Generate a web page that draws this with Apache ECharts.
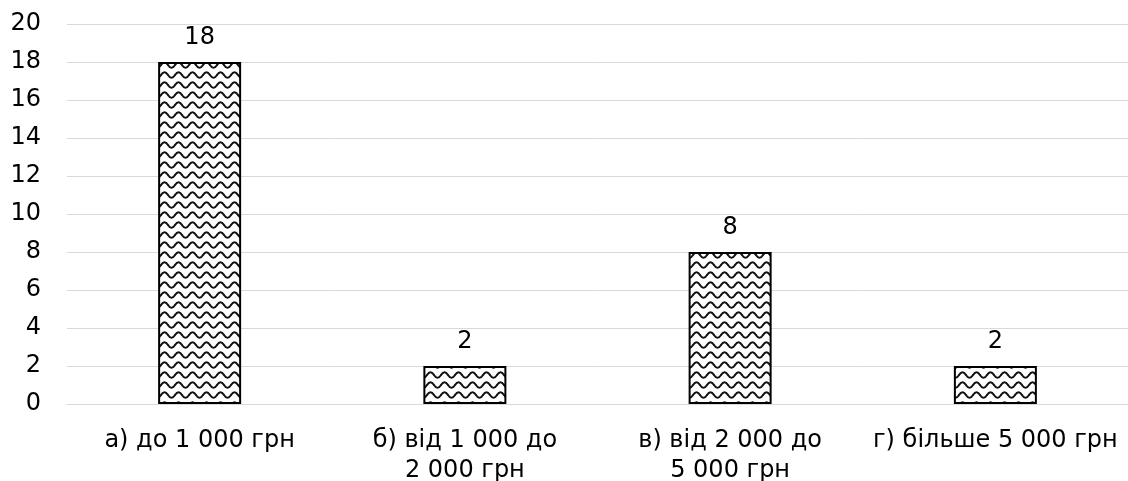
<!DOCTYPE html>
<html>
<head>
<meta charset="utf-8">
<script src="https://cdn.jsdelivr.net/npm/echarts@6/dist/echarts.min.js"></script>
<style>html,body{margin:0;padding:0;background:#fff}#c{width:1128px;height:481px}</style>
</head>
<body>
<div id="c"></div>
<script>
const categories = ['а) до 1 000 грн', 'б) від 1 000 до\n2 000 грн', 'в) від 2 000 до\n5 000 грн', 'г) більше 5 000 грн'];
const values = [18, 2, 8, 2];
const yTicks = {min: 0, max: 20, interval: 2};

const FONT = 'DejaVu Sans, Liberation Sans, Arial, sans-serif';

function wavePattern() {
  const c = document.createElement('canvas');
  c.width = 14; c.height = 10;
  const ctx = c.getContext('2d');
  ctx.fillStyle = '#fff';
  ctx.fillRect(0, 0, 14, 10);
  ctx.strokeStyle = '#111';
  ctx.lineWidth = 2;
  for (let off = -10; off <= 10; off += 10) {
    ctx.beginPath();
    for (let x = -1; x <= 15; x += 0.5) {
      const y = 5 + off + 2.7 * Math.sin(2 * Math.PI * x / 14);
      if (x === -1) ctx.moveTo(x, y); else ctx.lineTo(x, y);
    }
    ctx.stroke();
  }
  return c;
}

const chart = echarts.init(document.getElementById('c'), null, {renderer: 'canvas'});
chart.setOption({
  animation: false,
  backgroundColor: '#fff',
  grid: {left: 67, right: 0, top: 24, bottom: 77, containLabel: false, outerBoundsMode: 'none'},
  xAxis: {
    type: 'category',
    data: categories,
    axisLine: {show: true, lineStyle: {color: '#d9d9d9', width: 1}},
    axisTick: {show: false},
    axisLabel: {color: '#000', fontSize: 24, fontFamily: FONT, lineHeight: 30, margin: 22, interval: 0}
  },
  yAxis: {
    type: 'value',
    min: yTicks.min, max: yTicks.max, interval: yTicks.interval,
    axisLine: {show: false},
    axisTick: {show: false},
    splitLine: {lineStyle: {color: '#d9d9d9', width: 1}},
    axisLabel: {color: '#000', fontSize: 24, fontFamily: FONT, margin: 26}
  },
  series: [{
    type: 'bar',
    data: values,
    barWidth: 83,
    itemStyle: {
      color: {image: wavePattern(), repeat: 'repeat'},
      borderColor: '#000',
      borderWidth: 2
    },
    label: {
      show: true, position: 'top', distance: 12,
      color: '#000', fontSize: 24, fontFamily: FONT
    }
  }]
});
</script>
</body>
</html>
